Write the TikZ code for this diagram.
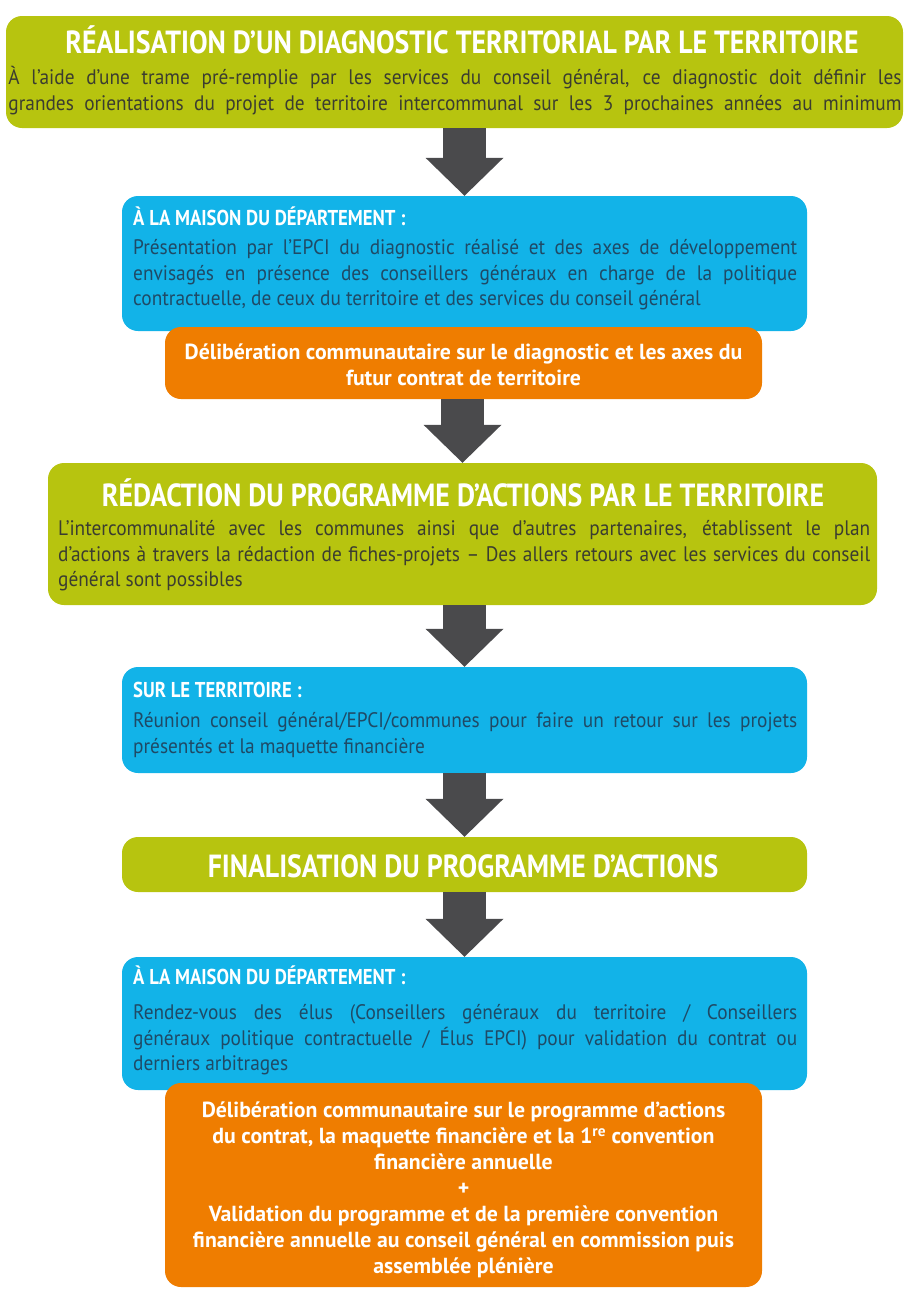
\documentclass[tikz,border=0pt]{standalone}
\usepackage{fontspec}
\setmainfont{PT Sans}
\newfontfamily\condfont[FakeStretch=0.87]{PT Sans}
\newfontfamily\bodyfont[FakeStretch=0.92]{PT Sans}
\usetikzlibrary{positioning,arrows.meta}
\definecolor{vert}{HTML}{B7C40F}
\definecolor{bleu}{HTML}{12B3E8}
\definecolor{orangefond}{HTML}{EF7D00}
\definecolor{gris}{HTML}{4A4A4C}
\definecolor{textevert}{HTML}{3B3D30}
\definecolor{textebleu}{HTML}{1F4A66}
\hyphenpenalty=10000
\tikzset{
box/.style={rounded corners=16pt, inner sep=0pt},
greenbox/.style={box, fill=vert},
bluebox/.style={box, fill=bleu},
orangebox/.style={box, fill=orangefond},
grandtitre/.style={inner sep=0pt, text=white, text height=22pt, text depth=0pt, font=\condfont\bfseries\fontsize{32}{36}\selectfont},
soustitre/.style={inner sep=0pt, anchor=west, text=white, text height=15.5pt, text depth=0pt, font=\condfont\bfseries\fontsize{21.5}{25}\selectfont},
corps/.style={inner sep=0pt, align=justify, font=\bodyfont\fontsize{21}{25.5}\selectfont},
decision/.style={inner sep=0pt, align=center, text=white, font=\bfseries\fontsize{21.8}{26}\selectfont},
fleche/.style={draw=gris, line width=43pt, -{Triangle[length=38pt,width=78pt,line width=0pt]}},
}

\begin{document}
\begin{tikzpicture}[x=1pt,y=-1pt]
\useasboundingbox (0,0) rectangle (910,1291);

% les boites
\node[greenbox, minimum width=897pt, minimum height=112pt] (diag) at (454.5,72) {};
\node[bluebox, minimum width=685pt, minimum height=135pt] (mdd) at (464.5,263.5) {};
\node[orangebox, minimum width=597pt, minimum height=72pt] (delib) at (463.5,363) {};
\node[greenbox, minimum width=829pt, minimum height=142pt] (redac) at (462.5,534) {};
\node[bluebox, minimum width=685pt, minimum height=106pt] (terr) at (464.5,720) {};
\node[greenbox, minimum width=685pt, minimum height=55pt] (final) at (464.5,864.5) {};
\node[bluebox, minimum width=685pt, minimum height=133pt] (mdd2) at (464.5,1023.5) {};
\node[orangebox, minimum width=597pt, minimum height=204pt] (valid) at (463.5,1185) {};

% les textes
\node[grandtitre] (diagtitre) at (462,42) {RÉALISATION D’UN DIAGNOSTIC TERRITORIAL PAR LE TERRITOIRE};
\node[corps, align=center, text=textevert] (diagtexte) at (455,90.5) {\makebox[893pt][s]{À l’aide d’une trame pré-remplie par les services du conseil général, ce diagnostic doit définir les}\\ \makebox[893pt][s]{grandes orientations du projet de territoire intercommunal sur les 3 prochaines années au minimum}};

\node[soustitre] (mddtitre) at (133,218) {À LA MAISON DU DÉPARTEMENT :};
\node[corps, anchor=west, text=textebleu, text width=664pt] (mddtexte) at (133,275) {Présentation par l’EPCI du diagnostic réalisé et des axes de développement\linebreak envisagés en présence des conseillers généraux en charge de la politique\linebreak contractuelle, de ceux du territoire et des services du conseil général};

\node[decision] (delibtexte) at (463.5,365) {Délibération communautaire sur le diagnostic et les axes du\\ futur contrat de territoire};

\node[grandtitre] (redactitre) at (463,495) {RÉDACTION DU PROGRAMME D’ACTIONS PAR LE TERRITOIRE};
\node[corps, anchor=west, text=textevert, text width=812pt] (redactexte) at (58,556) {L’intercommunalité avec les communes ainsi que d’autres partenaires, établissent le plan\linebreak d’actions à travers la rédaction de fiches-projets – Des allers retours avec les services du conseil\linebreak général sont possibles};

\node[soustitre] (terrtitre) at (133,690) {SUR LE TERRITOIRE :};
\node[corps, anchor=west, text=textebleu, text width=664pt] (terrtexte) at (133,735) {Réunion conseil général/EPCI/communes pour faire un retour sur les projets\linebreak présentés et la maquette financière};

\node[grandtitre] (finaltitre) at (463,866) {FINALISATION DU PROGRAMME D’ACTIONS};

\node[soustitre] (mdd2titre) at (133,977) {À LA MAISON DU DÉPARTEMENT :};
\node[corps, anchor=west, text=textebleu, text width=664pt] (mdd2texte) at (133,1040) {Rendez-vous des élus (Conseillers généraux du territoire / Conseillers\linebreak généraux politique contractuelle / Élus EPCI) pour validation du contrat ou\linebreak derniers arbitrages};

\node[decision] (validtexte) at (463.5,1190) {Délibération communautaire sur le programme d’actions\\ du contrat, la maquette financière et la 1\textsuperscript{re} convention\\ financière annuelle\\ +\\ Validation du programme et de la première convention\\ financière annuelle au conseil général en commission puis\\ assemblée plénière};

% les fleches
\draw[fleche] (diag.south -| mdd.north) -- (mdd.north);
\draw[fleche] (delib.south -| redac.north) -- (redac.north);
\draw[fleche] (redac.south -| terr.north) -- (terr.north);
\draw[fleche] (terr.south) -- (final.north);
\draw[fleche] (final.south) -- (mdd2.north);
\end{tikzpicture}
\end{document}
